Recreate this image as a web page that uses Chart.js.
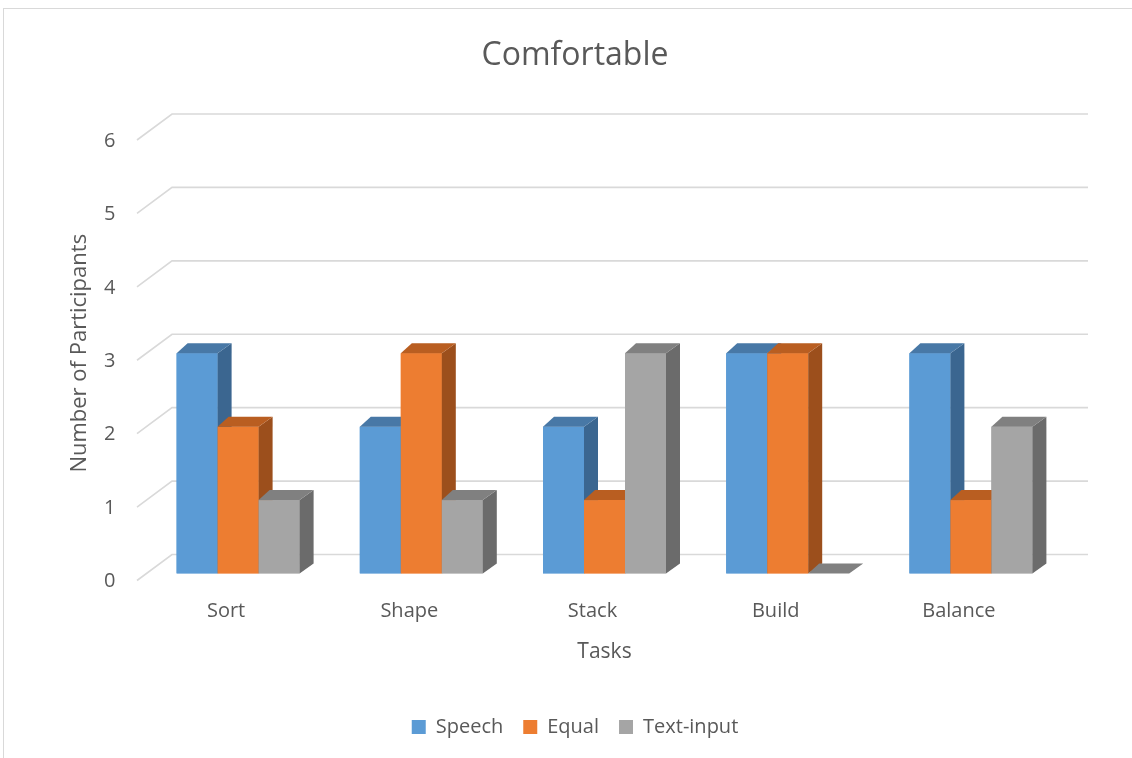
<!DOCTYPE html>
<html>
<head>
<meta charset="utf-8">
<script src="https://cdn.jsdelivr.net/npm/chart.js@4"></script>
<style>
  html, body { margin: 0; padding: 0; background: #fff; overflow: hidden; }
  #frame {
    position: absolute; left: 3px; top: 8px; width: 1400px; height: 1000px;
    border: 1px solid #d9d9d9;
  }
  #chart { position: absolute; left: 0; top: 0; }
</style>
</head>
<body>
<div id="frame"></div>
<canvas id="chart" width="1132" height="758"></canvas>
<script>
const categories = ['Sort', 'Shape', 'Stack', 'Build', 'Balance'];
const speech = [3, 2, 2, 3, 3];
const equal = [2, 3, 1, 3, 1];
const textInput = [1, 1, 3, 0, 2];
const yTicks = [0, 1, 2, 3, 4, 5, 6];

const FONT = "'Open Sans', sans-serif";
const TEXT = '#595959';

// colours: front, top, side
const shades = [
    ['#5b9bd5', '#4878a6', '#3b6690'],
    ['#ed7d31', '#b95e21', '#9c4f1c'],
    ['#a5a5a5', '#808080', '#6b6b6b']
];

// depth offsets for the fake 3D look
const back = { dx: 25.5, dy: -19 };   // back wall relative to bar plane
const front = { dx: -9.5, dy: 7 };    // front edge relative to bar plane
const depth = { dxL: 11, dxR: 14, dy: -10 };

const wallPlugin = {
    id: 'wall3d',
    beforeDatasetsDraw(chart) {
        const { ctx, chartArea } = chart;
        const yScale = chart.scales.y;
        ctx.save();
        ctx.strokeStyle = '#d9d9d9';
        ctx.lineWidth = 1.6;
        yTicks.forEach(v => {
            const y = yScale.getPixelForValue(v);
            ctx.beginPath();
            ctx.moveTo(chartArea.left + front.dx, y + front.dy);
            ctx.lineTo(chartArea.left + back.dx, y + back.dy);
            ctx.lineTo(chartArea.right + back.dx, y + back.dy);
            ctx.stroke();
        });
        ctx.restore();
    },
    afterDatasetsDraw(chart) {
        const { ctx } = chart;
        ctx.save();
        for (let i = 0; i < categories.length; i++) {
            for (let d = 0; d < chart.data.datasets.length; d++) {
                const bar = chart.getDatasetMeta(d).data[i];
                const { x, y, base, width } = bar.getProps(['x', 'y', 'base', 'width'], true);
                const l = x - width / 2;
                const r = x + width / 2;
                const [cFront, cTop, cSide] = shades[d];

                ctx.fillStyle = cFront;
                ctx.fillRect(l, y, width, base - y);

                ctx.fillStyle = cSide;
                ctx.beginPath();
                ctx.moveTo(r, y);
                ctx.lineTo(r + depth.dxR, y + depth.dy);
                ctx.lineTo(r + depth.dxR, base + depth.dy);
                ctx.lineTo(r, base);
                ctx.closePath();
                ctx.fill();

                ctx.fillStyle = cTop;
                ctx.beginPath();
                ctx.moveTo(l, y);
                ctx.lineTo(l + depth.dxL, y + depth.dy);
                ctx.lineTo(r + depth.dxR, y + depth.dy);
                ctx.lineTo(r, y);
                ctx.closePath();
                ctx.fill();
            }
        }
        ctx.restore();
    }
};

const ctx = document.getElementById('chart').getContext('2d');
new Chart(ctx, {
    type: 'bar',
    data: {
        labels: categories,
        datasets: [
            { label: 'Speech', data: speech, backgroundColor: shades[0][0] },
            { label: 'Equal', data: equal, backgroundColor: shades[1][0] },
            { label: 'Text-input', data: textInput, backgroundColor: shades[2][0] }
        ]
    },
    options: {
        responsive: false,
        animation: false,
        layout: { padding: { left: 18, right: 0, top: 0, bottom: 11 } },
        datasets: {
            bar: { barPercentage: 1, categoryPercentage: 0.6714, borderWidth: 0 }
        },
        plugins: {
            title: {
                display: true,
                text: 'Comfortable',
                color: TEXT,
                font: { family: FONT, size: 32, weight: 'normal' },
                padding: { top: 37, bottom: 57.6 }
            },
            legend: {
                position: 'bottom',
                labels: {
                    color: TEXT,
                    font: { family: FONT, size: 20 },
                    boxWidth: 14,
                    boxHeight: 14,
                    padding: 20
                }
            },
            tooltip: { enabled: false }
        },
        scales: {
            x: {
                grid: { display: false, drawTicks: false },
                border: { display: false },
                ticks: {
                    color: TEXT,
                    font: { family: FONT, size: 20 },
                    padding: 26,
                    labelOffset: -12
                },
                title: {
                    display: true,
                    text: 'Tasks',
                    color: TEXT,
                    font: { family: FONT, size: 21 },
                    padding: { top: 0, bottom: 32 }
                },
                afterFit(scale) { scale.height = 123.5; }
            },
            y: {
                min: 0,
                max: 6,
                grid: { display: false, drawTicks: false },
                border: { display: false },
                ticks: {
                    stepSize: 1,
                    color: TEXT,
                    font: { family: FONT, size: 20 },
                    padding: 31,
                    labelOffset: 8
                },
                title: {
                    display: true,
                    text: 'Number of Participants',
                    color: TEXT,
                    font: { family: FONT, size: 22 },
                    padding: { top: 49, bottom: 0 }
                },
                afterFit(scale) { scale.width = 128.5; }
            },
            spacer: {
                position: 'right',
                grid: { display: false, drawTicks: false },
                border: { display: false },
                ticks: { display: false },
                afterFit(scale) { scale.width = 69.5; }
            }
        }
    },
    plugins: [wallPlugin]
});
</script>
</body>
</html>
